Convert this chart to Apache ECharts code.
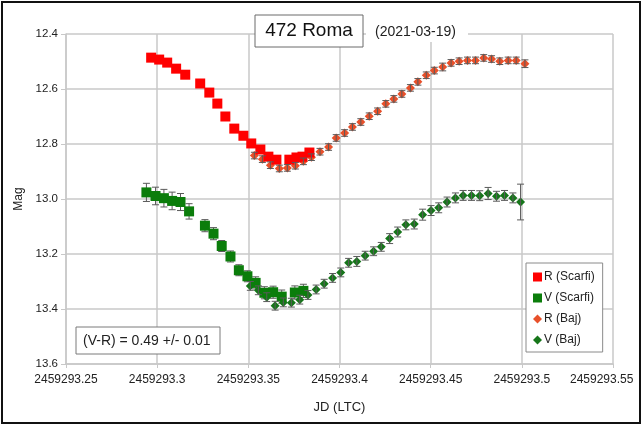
<!DOCTYPE html>
<html><head><meta charset="utf-8">
<script src="https://cdn.jsdelivr.net/npm/echarts@6/dist/echarts.min.js"></script>
<style>html,body{margin:0;padding:0;background:#fff}#c{width:644px;height:425px}</style>
</head><body><div id="c"></div>
<script>
// ---- Data ----
const xTicks = [2459293.25, 2459293.3, 2459293.35, 2459293.4, 2459293.45, 2459293.5, 2459293.55];
const yTicks = [12.4, 12.6, 12.8, 13.0, 13.2, 13.4, 13.6];

const rScarfiJD = [2459293.2967, 2459293.3011, 2459293.3055, 2459293.3104, 2459293.3154, 2459293.3236, 2459293.3286, 2459293.3330, 2459293.3374, 2459293.3423, 2459293.3473, 2459293.3516, 2459293.3566, 2459293.3610, 2459293.3654, 2459293.3725, 2459293.3764, 2459293.3797, 2459293.3835];
const rScarfiMag = [12.486, 12.493, 12.504, 12.526, 12.548, 12.580, 12.613, 12.653, 12.700, 12.744, 12.770, 12.798, 12.820, 12.846, 12.857, 12.857, 12.849, 12.846, 12.831];
const rScarfiErr = [0.008, 0.008, 0.008, 0.008, 0.008, 0.008, 0.008, 0.008, 0.008, 0.008, 0.008, 0.008, 0.008, 0.008, 0.008, 0.008, 0.008, 0.008, 0.008];

const vScarfiJD = [2459293.2941, 2459293.2991, 2459293.3037, 2459293.3082, 2459293.3128, 2459293.3175, 2459293.3262, 2459293.3309, 2459293.3354, 2459293.3402, 2459293.3448, 2459293.3495, 2459293.3540, 2459293.3588, 2459293.3636, 2459293.3683, 2459293.3755, 2459293.3802];
const vScarfiMag = [12.976, 12.989, 12.997, 13.007, 13.011, 13.045, 13.097, 13.126, 13.171, 13.209, 13.259, 13.281, 13.305, 13.341, 13.339, 13.355, 13.340, 13.334];
const vScarfiErr = [0.033, 0.032, 0.032, 0.032, 0.031, 0.028, 0.022, 0.022, 0.020, 0.020, 0.020, 0.020, 0.022, 0.022, 0.022, 0.024, 0.024, 0.024];

const rBajJD = [2459293.3533, 2459293.3577, 2459293.3621, 2459293.3670, 2459293.3714, 2459293.3758, 2459293.3802, 2459293.3846, 2459293.3893, 2459293.3940, 2459293.3982, 2459293.4028, 2459293.4071, 2459293.4117, 2459293.4163, 2459293.4209, 2459293.4254, 2459293.4298, 2459293.4342, 2459293.4389, 2459293.4430, 2459293.4476, 2459293.4520, 2459293.4566, 2459293.4612, 2459293.4656, 2459293.4702, 2459293.4746, 2459293.4791, 2459293.4834, 2459293.4879, 2459293.4925, 2459293.4969, 2459293.5017];
const rBajMag = [12.842, 12.855, 12.877, 12.889, 12.887, 12.879, 12.863, 12.848, 12.828, 12.811, 12.778, 12.760, 12.738, 12.720, 12.699, 12.681, 12.654, 12.636, 12.618, 12.596, 12.574, 12.550, 12.533, 12.520, 12.505, 12.499, 12.496, 12.496, 12.487, 12.491, 12.499, 12.496, 12.496, 12.508];
const rBajErr = [0.012, 0.012, 0.012, 0.012, 0.012, 0.012, 0.012, 0.012, 0.012, 0.012, 0.012, 0.012, 0.012, 0.012, 0.012, 0.012, 0.012, 0.012, 0.012, 0.012, 0.012, 0.012, 0.012, 0.014, 0.012, 0.012, 0.012, 0.012, 0.012, 0.012, 0.012, 0.012, 0.012, 0.014];

const vBajJD = [2459293.3511, 2459293.3555, 2459293.3601, 2459293.3647, 2459293.3692, 2459293.3736, 2459293.3782, 2459293.3827, 2459293.3872, 2459293.3916, 2459293.3962, 2459293.4007, 2459293.4050, 2459293.4095, 2459293.4141, 2459293.4187, 2459293.4229, 2459293.4275, 2459293.4319, 2459293.4364, 2459293.4410, 2459293.4456, 2459293.4502, 2459293.4544, 2459293.4590, 2459293.4636, 2459293.4678, 2459293.4724, 2459293.4769, 2459293.4815, 2459293.4861, 2459293.4905, 2459293.4951, 2459293.4993];
const vBajMag = [13.316, 13.332, 13.357, 13.388, 13.376, 13.377, 13.366, 13.349, 13.329, 13.308, 13.287, 13.267, 13.232, 13.227, 13.206, 13.190, 13.174, 13.144, 13.120, 13.094, 13.091, 13.057, 13.042, 13.032, 13.011, 12.996, 12.987, 12.987, 12.988, 12.980, 12.990, 12.987, 12.996, 13.011];
const vBajErr = [0.016, 0.016, 0.016, 0.016, 0.016, 0.016, 0.016, 0.016, 0.016, 0.016, 0.016, 0.016, 0.016, 0.018, 0.016, 0.016, 0.016, 0.018, 0.018, 0.018, 0.018, 0.020, 0.018, 0.018, 0.018, 0.018, 0.018, 0.018, 0.018, 0.022, 0.018, 0.018, 0.018, 0.065];

const seriesNames = ['R (Scarfi)', 'V (Scarfi)', 'R (Baj)', 'V (Baj)'];
const titleText = '472 Roma';
const dateText = '(2021-03-19)';
const noteText = '(V-R) = 0.49 +/- 0.01';

// ---- Build ----
function zip(xs, ys, es) { return xs.map((x, i) => [x, ys[i], es[i]]); }
function errRender(params, api) {
  const x = api.value(0), y = api.value(1), e = api.value(2);
  const a = api.coord([x, y - e]), b = api.coord([x, y + e]);
  const c = 3.5, st = { stroke: '#5a5a5a', lineWidth: 1 };
  return { type: 'group', children: [
    { type: 'line', shape: { x1: a[0], y1: a[1], x2: b[0], y2: b[1] }, style: st },
    { type: 'line', shape: { x1: a[0] - c, y1: a[1], x2: a[0] + c, y2: a[1] }, style: st },
    { type: 'line', shape: { x1: b[0] - c, y1: b[1], x2: b[0] + c, y2: b[1] }, style: st }
  ]};
}
const sets = [
  { d: zip(rScarfiJD, rScarfiMag, rScarfiErr), sym: 'rect', size: 10, col: '#ff0000', errZ: 1 },
  { d: zip(vScarfiJD, vScarfiMag, vScarfiErr), sym: 'rect', size: 10, col: '#0b7d0b', errZ: 1 },
  { d: zip(rBajJD, rBajMag, rBajErr), sym: 'diamond', size: 9, col: '#e8502a', errZ: 6 },
  { d: zip(vBajJD, vBajMag, vBajErr), sym: 'diamond', size: 9, col: '#16761a', errZ: 6 }
];
const series = [];
sets.forEach((s) => series.push({ type: 'custom', renderItem: errRender, data: s.d, z: s.errZ,
  silent: true, encode: { x: 0, y: 1 } }));
sets.forEach((s, i) => series.push({
  type: 'scatter', name: seriesNames[i], data: s.d, symbol: s.sym, symbolSize: s.size,
  itemStyle: { color: s.col, opacity: 1 }, z: i >= 2 ? 3 : 4, encode: { x: 0, y: 1 }
}));

const font = 'Liberation Sans, Arial, sans-serif';
const xMaxTick = xTicks[xTicks.length - 1];
const fmtX = v => {
  const s = String(Math.round(v * 100) / 100);
  return Math.abs(v - xMaxTick) < 1e-6 ? '{last|' + s + '}' : s;
};
const chart = echarts.init(document.getElementById('c'), null, { renderer: 'canvas' });
chart.setOption({
  animation: false,
  backgroundColor: '#fff',
  grid: { left: 66, right: 31, top: 34, bottom: 61, containLabel: false },
  xAxis: {
    type: 'value', min: xTicks[0], max: xMaxTick, interval: 0.05,
    name: 'JD (LTC)', nameLocation: 'middle', nameGap: 37,
    nameTextStyle: { fontFamily: font, fontSize: 13, color: '#222' },
    axisLine: { show: true, lineStyle: { color: '#c8c8c8', width: 1.5 } },
    axisTick: { show: true, length: 4, lineStyle: { color: '#c8c8c8' } },
    splitLine: { show: true, lineStyle: { color: '#c8c8c8', width: 1.5 } },
    axisLabel: { formatter: fmtX, fontFamily: font, fontSize: 12, color: '#222', margin: 10,
      showMinLabel: true, showMaxLabel: true,
      rich: { last: { width: 86, align: 'left', fontFamily: font, fontSize: 12, color: '#222' } } }
  },
  yAxis: {
    type: 'value', inverse: true, min: yTicks[0], max: yTicks[yTicks.length - 1], interval: 0.2,
    name: 'Mag', nameLocation: 'middle', nameGap: 40, nameRotate: 90,
    nameTextStyle: { fontFamily: font, fontSize: 12, color: '#222' },
    axisLine: { show: true, lineStyle: { color: '#c8c8c8', width: 1.5 } },
    axisTick: { show: true, length: 5, lineStyle: { color: '#c8c8c8' } },
    splitLine: { show: true, lineStyle: { color: '#c8c8c8', width: 1.5 } },
    axisLabel: { formatter: v => v.toFixed(1), fontFamily: font, fontSize: 11.5, color: '#222', margin: 8 }
  },
  legend: {
    data: seriesNames.map((n, i) => ({ name: n, icon: i < 2 ? 'rect' : 'diamond' })),
    orient: 'vertical', left: 526, top: 263, itemWidth: 9, itemHeight: 9, itemGap: 9,
    padding: [8, 8, 6, 7], backgroundColor: '#fff', borderColor: '#8a8a8a', borderWidth: 1,
    textStyle: { fontFamily: font, fontSize: 12, color: '#222', padding: [0, 0, 0, -3] }, selectedMode: false, z: 50
  },
  graphic: [
    { type: 'rect', z: 100, shape: { x: 366, y: 22, width: 102, height: 20 }, style: { fill: '#fff' } },
    { type: 'text', z: 101, x: 375, y: 32, style: { text: dateText, font: '14px ' + font, fill: '#222', textVerticalAlign: 'middle' } },
    { type: 'rect', z: 100, shape: { x: 255, y: 15, width: 108, height: 32 }, style: { fill: '#fff', stroke: '#6a6a6a', lineWidth: 1 } },
    { type: 'text', z: 101, x: 309, y: 31, style: { text: titleText, font: '19px ' + font, fill: '#111', textAlign: 'center', textVerticalAlign: 'middle' } },
    { type: 'rect', z: 100, shape: { x: 76, y: 327, width: 144, height: 27 }, style: { fill: '#fff', stroke: '#7a7a7a', lineWidth: 1 } },
    { type: 'text', z: 101, x: 83, y: 341, style: { text: noteText, font: '14px ' + font, fill: '#222', textVerticalAlign: 'middle' } },
    { type: 'rect', z: 102, shape: { x: 2, y: 2, width: 638, height: 421 }, style: { fill: 'none', stroke: '#111', lineWidth: 2 } }
  ],
  series: series
});
</script></body></html>
